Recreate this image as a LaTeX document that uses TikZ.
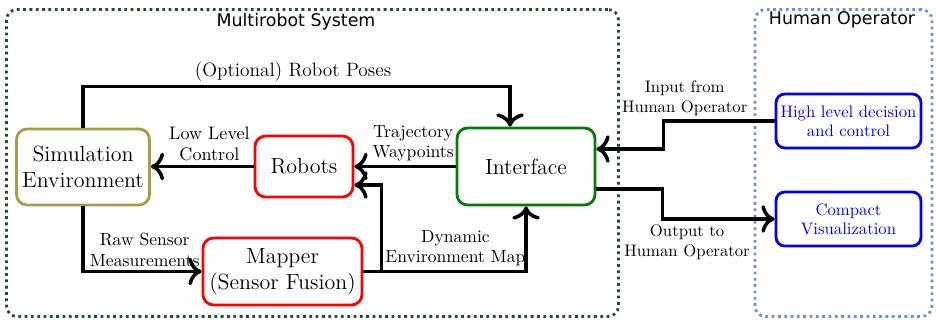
\documentclass[tikz,border=0pt]{standalone}
\usepackage{fontspec}
\newfontfamily\grouptitlefont{DejaVu Sans}
\usepackage{xcolor}
\definecolor{sim-border}{HTML}{A39D4A}
\definecolor{iface-border}{HTML}{067A06}
\definecolor{mrs-border}{HTML}{224E2C}
\definecolor{human-border}{HTML}{6F8FD6}
\usepackage{tikz}
\usetikzlibrary{
  arrows.meta,
  positioning,
  calc
}

\begin{document}
\begin{tikzpicture}[
    block/.style={
      rectangle,
      draw,
      line width=1.6pt,
      rounded corners=6pt,
      fill=white,
      inner sep=2pt,
      font=\fontsize{12.5}{15}\selectfont,
      align=center
    },
    opbox/.style={
      block,
      draw=blue,
      text=blue,
      rounded corners=5pt,
      minimum width=2.9cm,
      minimum height=1.08cm,
      font=\fontsize{9.5}{11}\selectfont
    },
    group/.style={
      rectangle,
      dotted,
      line width=1.6pt,
      rounded corners=6pt
    },
    grouptitle/.style={
      font=\grouptitlefont\fontsize{9.9}{12}\selectfont
    },
    flow/.style={
      -{To[scale=1.25]},
      line width=2pt
    },
    lbl/.style={
      font=\fontsize{10}{11.6}\selectfont,
      align=center,
      inner sep=2pt
    },
    oplbl/.style={
      lbl,
      font=\fontsize{9.5}{11.4}\selectfont
    }
  ]
    \useasboundingbox (0,0) rectangle (18.74,6.4);

    % ---- Group frames ----
    \node[group, draw=mrs-border, minimum width=12.24cm, minimum height=6.14cm]
      (mrs) at (6.25, 3.14) {};
    \node[grouptitle] (mrstitle) at (5.92, 5.96) {Multirobot System};
    \node[group, draw=human-border, minimum width=3.54cm, minimum height=6.14cm]
      (human) at (16.87, 3.14) {};
    \node[grouptitle] (humantitle) at (16.84, 6.0) {Human Operator};

    % ---- Multirobot blocks ----
    \node[block, draw=sim-border, minimum width=2.66cm, minimum height=1.52cm]
      (sim) at (1.66, 3.06) {Simulation\\Environment};
    \node[block, draw=red, minimum width=1.96cm, minimum height=1.22cm]
      (robots) at (6.08, 3.07) {Robots};
    \node[block, draw=iface-border, minimum width=2.76cm, minimum height=1.54cm]
      (iface) at (10.52, 3.07) {Interface};
    \node[block, draw=red, minimum width=3.18cm, minimum height=1.34cm]
      (mapper) at (5.65, 0.97) {Mapper\\(Sensor Fusion)};

    % ---- Operator blocks ----
    \node[opbox] (decision) at (16.97, 3.98) {High level decision\\and control};
    \node[opbox] (cviz)     at (16.97, 2.02) {Compact\\Visualization};

    \coordinate (branch) at ($(mapper.east)+(0.36,0)$);

    % ---- Inside the multirobot system ----
    \draw[flow] (sim.north) -- ++(0,0.82) -| ([xshift=-0.32cm]iface.north)
      node[lbl, above, pos=0.246, font=\fontsize{11}{13}\selectfont]
      {(Optional) Robot Poses};
    \draw[flow] (robots.west) -- (robots.west -| sim.east)
      node[lbl, above, pos=0.43, font=\fontsize{10.3}{12}\selectfont]
      {Low Level\\Control};
    \draw[flow] (iface.west) -- (iface.west -| robots.east)
      node[lbl, above, pos=0.42] {Trajectory\\Waypoints};
    \draw[flow] (sim.south) |- (mapper.west)
      node[lbl, above, pos=0.76] {Raw Sensor\\Measurements};
    \draw[flow] (mapper.east) -| (iface.south)
      node[lbl, above, pos=0.283] {Dynamic\\Environment Map};
    \draw[flow] (branch) |- ([yshift=-0.37cm]robots.east);

    % ---- To and from the operator ----
    \draw[flow] (decision.west) -- ++(-2.22,0)
      node[oplbl, above, pos=0.81] {Input from\\Human Operator}
      |- ([yshift=0.35cm]iface.east);
    \draw[flow] ([yshift=-0.45cm]iface.east) -- ++(1.32,0) |- (cviz.west)
      node[oplbl, below, pos=0.61] {Output to\\Human Operator};
  \end{tikzpicture}
\end{document}
